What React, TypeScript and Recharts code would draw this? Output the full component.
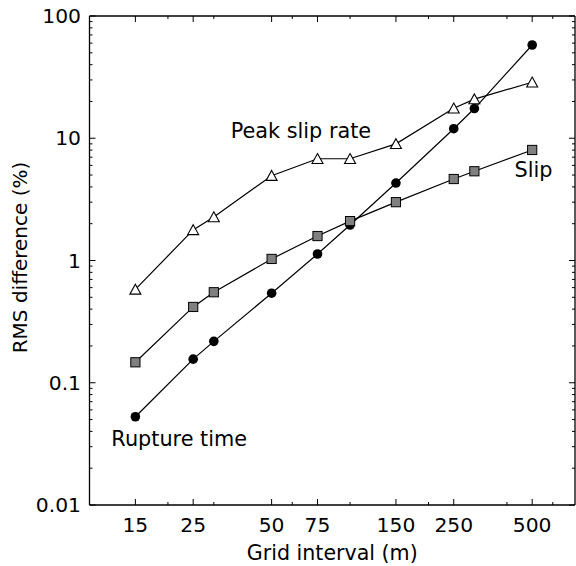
import React from 'react';
import { LineChart, Line, XAxis, YAxis, ReferenceDot } from 'recharts';

// grid interval (m) and RMS difference (%)
const gridInterval = [15, 25, 30, 50, 75, 100, 150, 250, 300, 500];
const peakSlipRate = [0.58, 1.78, 2.27, 4.94, 6.8, 6.8, 9.0, 17.6, 20.9, 28.7];
const slip = [0.147, 0.417, 0.55, 1.03, 1.585, 2.1, 3.0, 4.64, 5.37, 8.02];
const ruptureTime = [0.0527, 0.156, 0.218, 0.54, 1.13, 1.95, 4.3, 11.97, 17.5, 57.9];

const xMajor = [15, 25, 50, 75, 150, 250, 500];
const xMinor = [20, 30, 60, 100, 200, 400, 600];
const yMajor = [0.01, 0.1, 1, 10, 100];
const yMinor = [0.01, 0.1, 1, 10].flatMap((d) =>
  [2, 3, 4, 5, 6, 7, 8, 9].map((m) => +(d * m).toPrecision(2))
);

const rows = gridInterval.map((x, i) => ({
  x,
  peak: peakSlipRate[i],
  slip: slip[i],
  rupture: ruptureTime[i],
}));

const FONT = '"DejaVu Sans", sans-serif';
const X_DOMAIN = [10, 730];
const Y_DOMAIN = [0.01, 100];
const axisLine = { stroke: '#000', strokeWidth: 1.3 };

const BottomTick = (props: any) => {
  const { x, y, payload } = props;
  const major = xMajor.includes(payload.value);
  return (
    <g>
      <line x1={x} y1={y} x2={x} y2={y - (major ? 6 : 3)} stroke="#000" strokeWidth={1} />
      {major && (
        <text x={x} y={y + 26.5} textAnchor="middle" fontSize={20.3} fill="#000">
          {payload.value}
        </text>
      )}
    </g>
  );
};

const TopTick = (props: any) => {
  const { x, y, payload } = props;
  const major = xMajor.includes(payload.value);
  return <line x1={x} y1={y} x2={x} y2={y + (major ? 6 : 3)} stroke="#000" strokeWidth={1} />;
};

const LeftTick = (props: any) => {
  const { x, y, payload } = props;
  const major = yMajor.includes(payload.value);
  return (
    <g>
      <line x1={x} y1={y} x2={x + (major ? 6 : 3)} y2={y} stroke="#000" strokeWidth={1} />
      {major && (
        <text x={x - 8.5} y={y + 7} textAnchor="end" fontSize={20.3} fill="#000">
          {String(payload.value)}
        </text>
      )}
    </g>
  );
};

const RightTick = (props: any) => {
  const { x, y, payload } = props;
  const major = yMajor.includes(payload.value);
  return <line x1={x} y1={y} x2={x - (major ? 6 : 3)} y2={y} stroke="#000" strokeWidth={1} />;
};

const Triangle = (props: any) => {
  const { cx, cy, index } = props;
  return (
    <path
      key={`tri-${index}`}
      d={`M${cx},${cy - 5.2} L${cx + 5.5},${cy + 4.7} L${cx - 5.5},${cy + 4.7} Z`}
      fill="#fff"
      stroke="#000"
      strokeWidth={1.1}
    />
  );
};

const Square = (props: any) => {
  const { cx, cy, index } = props;
  return (
    <rect
      key={`sq-${index}`}
      x={cx - 4.6}
      y={cy - 4.6}
      width={9.2}
      height={9.2}
      fill="#808080"
      stroke="#000"
      strokeWidth={1}
    />
  );
};

const Circle = (props: any) => {
  const { cx, cy, index } = props;
  return <circle key={`ci-${index}`} cx={cx} cy={cy} r={4.8} fill="#000" />;
};

const xLabel = (props: any) => {
  const vb = props.viewBox;
  return (
    <text x={vb.x + vb.width / 2} y={vb.y + 54.5} textAnchor="middle" fontSize={20.6} fill="#000">
      Grid interval (m)
    </text>
  );
};

const yLabel = (props: any) => {
  const vb = props.viewBox;
  return (
    <text
      transform={`translate(${vb.x + 27}, ${vb.y + vb.height / 2 - 3}) rotate(-90)`}
      textAnchor="middle"
      fontSize={20}
      fill="#000"
    >
      RMS difference (%)
    </text>
  );
};

const note = (text: string) => ({
  value: text,
  position: 'center' as const,
  fontSize: 20.8,
  fill: '#000',
});

export default function App() {
  return (
    <div
      style={{
        fontFamily: FONT,
        position: 'absolute',
        left: 0,
        top: 0,
        width: 576,
        height: 566,
        overflow: 'hidden',
      }}
    >
      <LineChart width={576} height={566} data={rows} margin={{ top: 15, right: 0, bottom: 0, left: 0 }}>
        <XAxis
          dataKey="x"
          type="number"
          scale="log"
          domain={X_DOMAIN}
          allowDataOverflow
          ticks={[...xMajor, ...xMinor]}
          interval={0}
          tickSize={0}
          tickMargin={0}
          height={61}
          tickLine={false}
          axisLine={axisLine}
          tick={<BottomTick />}
          label={xLabel}
        />
        <XAxis
          xAxisId="top"
          orientation="top"
          dataKey="x"
          type="number"
          scale="log"
          domain={X_DOMAIN}
          allowDataOverflow
          ticks={[...xMajor, ...xMinor]}
          interval={0}
          tickSize={0}
          tickMargin={0}
          height={1}
          tickLine={false}
          axisLine={axisLine}
          tick={<TopTick />}
        />
        <YAxis
          type="number"
          scale="log"
          domain={Y_DOMAIN}
          allowDataOverflow
          ticks={[...yMajor, ...yMinor]}
          interval={0}
          tickSize={0}
          tickMargin={0}
          width={89.5}
          tickLine={false}
          axisLine={axisLine}
          tick={<LeftTick />}
          label={yLabel}
        />
        <YAxis
          yAxisId="right"
          orientation="right"
          type="number"
          scale="log"
          domain={Y_DOMAIN}
          allowDataOverflow
          ticks={[...yMajor, ...yMinor]}
          interval={0}
          tickSize={0}
          tickMargin={0}
          width={1}
          tickLine={false}
          axisLine={axisLine}
          tick={<RightTick />}
        />
        <Line
          dataKey="rupture"
          stroke="#000"
          strokeWidth={1.2}
          dot={Circle}
          activeDot={false}
          isAnimationActive={false}
        />
        <Line
          dataKey="slip"
          stroke="#000"
          strokeWidth={1.2}
          dot={Square}
          activeDot={false}
          isAnimationActive={false}
        />
        <Line
          dataKey="peak"
          stroke="#000"
          strokeWidth={1.2}
          dot={Triangle}
          activeDot={false}
          isAnimationActive={false}
        />
        <ReferenceDot x={64.8} y={11.5} r={0} fill="none" stroke="none" label={note('Peak slip rate')} />
        <ReferenceDot x={506} y={5.5} r={0} fill="none" stroke="none" label={note('Slip')} />
        <ReferenceDot x={22.1} y={0.0351} r={0} fill="none" stroke="none" label={note('Rupture time')} />
      </LineChart>
    </div>
  );
}
